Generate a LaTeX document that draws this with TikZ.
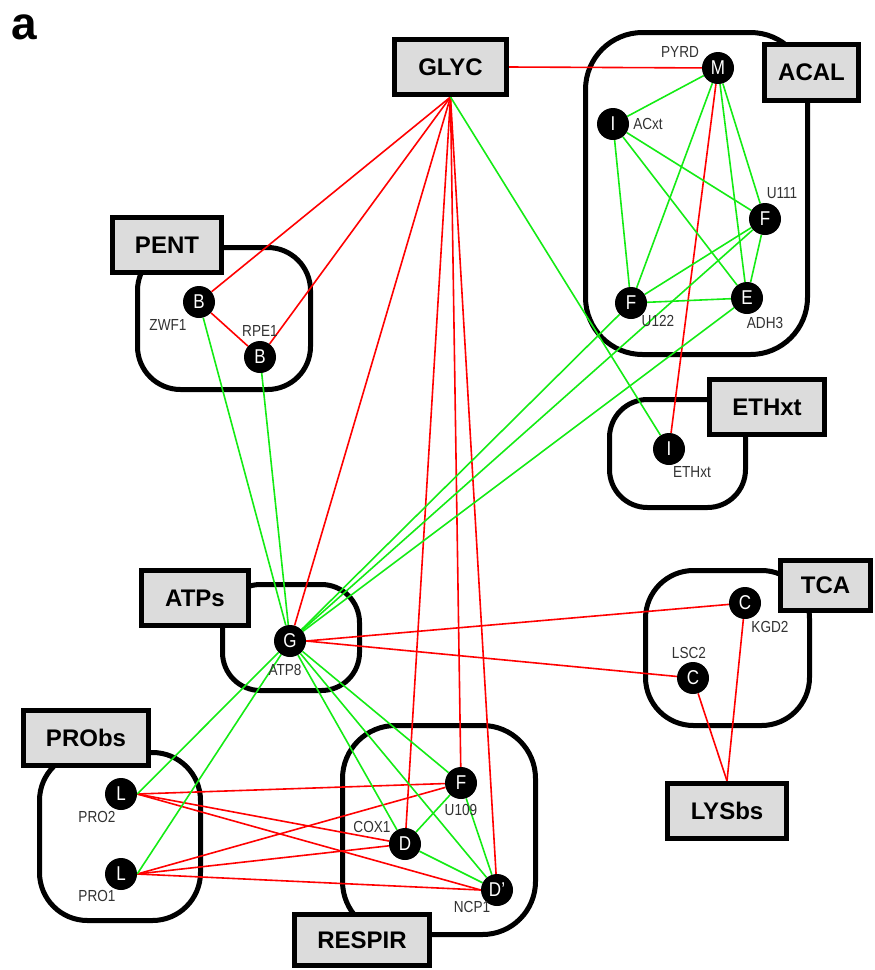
\documentclass[tikz,border=0pt]{standalone}
\usepackage{fontspec}
\setmainfont{Liberation Sans}
\newfontfamily\narrowfont[FakeStretch=0.85]{Liberation Sans}
\definecolor{boxgray}{RGB}{220,220,220}
\definecolor{labgray}{RGB}{50,50,50}
\definecolor{edgered}{RGB}{255,0,0}
\definecolor{edgegreen}{RGB}{20,235,20}
\pgfdeclarelayer{grplayer}
\pgfdeclarelayer{edglayer}
\pgfsetlayers{grplayer,edglayer,main}
\tikzset{
  box/.style={draw=black, line width=5pt, fill=boxgray, inner sep=0pt,
    font=\fontsize{24}{24}\selectfont\bfseries, text=black},
  gene/.style={circle, fill=black, minimum size=32pt, inner sep=0pt,
    text=white, font=\narrowfont\fontsize{20}{20}\selectfont},
  lab/.style={text=labgray, inner sep=0pt, font=\narrowfont\fontsize{16}{16}\selectfont},
  grp/.style={draw=black, line width=5pt},
  redE/.style={draw=edgered, line width=1.6pt},
  greenE/.style={draw=edgegreen, line width=1.6pt}
}
\begin{document}
\begin{tikzpicture}[x=1pt,y=-1pt]
\useasboundingbox (0,0) rectangle (875,970);

% panel letter
\node[anchor=base, inner sep=0pt, font=\fontsize{46}{46}\selectfont\bfseries] (panel) at (24,39) {a};

% group outlines
\begin{pgfonlayer}{grplayer}
\draw[grp, rounded corners=57pt] (585.5,32.5) rectangle (807.5,354.5);
\draw[grp, rounded corners=43pt] (137.5,247.5) rectangle (310.5,389.5);
\draw[grp, rounded corners=38pt] (609.5,399.5) rectangle (745.5,507.5);
\draw[grp, rounded corners=48pt] (645.5,570.5) rectangle (809.5,725.5);
\draw[grp, rounded corners=38pt] (222.5,584.5) rectangle (359.5,690.5);
\draw[grp, rounded corners=48pt] (39.5,752.5) rectangle (200.5,920.5);
\draw[grp, rounded corners=53pt] (342.5,725.5) rectangle (535.5,934.5);
\end{pgfonlayer}

% category boxes
\node[box, minimum width=112pt, minimum height=55pt] (GLYC) at (450.5,67) {GLYC};
\node[box, minimum width=94pt, minimum height=56pt] (ACAL) at (811.5,72.5) {ACAL};
\node[box, minimum width=109pt, minimum height=55pt] (PENT) at (167,245) {PENT};
\node[box, minimum width=115pt, minimum height=55pt] (ETHXT) at (767,407) {ETHxt};
\node[box, minimum width=90pt, minimum height=50pt] (TCA) at (825.5,585.5) {TCA};
\node[box, minimum width=107pt, minimum height=55pt] (ATPS) at (195,598) {ATPs};
\node[box, minimum width=125pt, minimum height=55pt] (PROBS) at (86,738) {PRObs};
\node[box, minimum width=135pt, minimum height=51pt] (RESPIR) at (362,940) {RESPIR};
\node[box, minimum width=119pt, minimum height=55pt] (LYSBS) at (727,811) {LYSbs};

% gene circles
\node[gene] (M) at (718,68) {M};
\node[gene] (ACXT) at (613,124) {I};
\node[gene] (U111) at (765,219) {F};
\node[gene] (U122) at (631,303) {F};
\node[gene] (ADH3) at (747,298) {E};
\node[gene] (ETHI) at (669,449) {I};
\node[gene] (ZWF1) at (199,302) {B};
\node[gene] (RPE1) at (260,357) {B};
\node[gene] (G) at (290,641) {G};
\node[gene] (KGD2) at (745,603) {C};
\node[gene] (LSC2) at (693,678) {C};
\node[gene] (PRO2) at (121,794) {L};
\node[gene] (PRO1) at (121,874) {L};
\node[gene] (U109) at (461,783) {F};
\node[gene] (COX1) at (405,844) {D};
\node[gene] (NCP1) at (497,890) {D’};

% gene labels
\node[lab] (lPYRD) at (680,52) {PYRD};
\node[lab] (lACXT) at (648,124) {ACxt};
\node[lab] (lU111) at (782,193) {U111};
\node[lab] (lU122) at (658,321) {U122};
\node[lab] (lADH3) at (765,323) {ADH3};
\node[lab] (lETH) at (692,472) {ETHxt};
\node[lab] (lZWF1) at (168,325) {ZWF1};
\node[lab] (lRPE1) at (260,331) {RPE1};
\node[lab] (lATP8) at (285,670) {ATP8};
\node[lab] (lKGD2) at (770,627) {KGD2};
\node[lab] (lLSC2) at (689,653) {LSC2};
\node[lab] (lPRO2) at (97,817) {PRO2};
\node[lab] (lPRO1) at (97,896) {PRO1};
\node[lab] (lU109) at (461,810) {U109};
\node[lab] (lCOX1) at (372,827) {COX1};
\node[lab] (lNCP1) at (472,907) {NCP1};

% connectors
\begin{pgfonlayer}{edglayer}
% red
\draw[redE] (GLYC.east) -- (M);
\draw[redE] (GLYC.south) -- (ZWF1);
\draw[redE] (GLYC.south) -- (RPE1);
\draw[redE] (GLYC.south) -- (G);
\draw[redE] (GLYC.south) -- (COX1);
\draw[redE] (GLYC.south) -- (U109);
\draw[redE] (GLYC.south) -- (NCP1);
\draw[redE] (M) -- (ETHI);
\draw[redE] (ZWF1) -- (RPE1);
\draw[redE] (G.east) -- (KGD2);
\draw[redE] (G.east) -- (LSC2);
\draw[redE] (KGD2) -- (LYSBS.north);
\draw[redE] (LSC2) -- (LYSBS.north);
\draw[redE] (PRO2.east) -- (U109);
\draw[redE] (PRO2.east) -- (COX1);
\draw[redE] (PRO2.east) -- (NCP1.west);
\draw[redE] (PRO1.east) -- (U109);
\draw[redE] (PRO1.east) -- (COX1);
\draw[redE] (PRO1.east) -- (NCP1.west);
% green
\draw[greenE] (GLYC.south) -- (ETHI);
\draw[greenE] (M) -- (ACXT);
\draw[greenE] (M) -- (U122);
\draw[greenE] (M) -- (ADH3);
\draw[greenE] (M) -- (U111);
\draw[greenE] (ACXT) -- (U122);
\draw[greenE] (ACXT) -- (U111);
\draw[greenE] (ACXT) -- (ADH3);
\draw[greenE] (U111) -- (U122);
\draw[greenE] (U111) -- (ADH3);
\draw[greenE] (U122) -- (ADH3);
\draw[greenE] (G) -- (U111);
\draw[greenE] (G) -- (ADH3);
\draw[greenE] (G) -- (U122);
\draw[greenE] (G) -- (ZWF1);
\draw[greenE] (G) -- (RPE1);
\draw[greenE] (G) -- (PRO2.east);
\draw[greenE] (G) -- (PRO1.east);
\draw[greenE] (G) -- (U109);
\draw[greenE] (G) -- (COX1);
\draw[greenE] (G) -- (NCP1);
\draw[greenE] (U109) -- (COX1);
\draw[greenE] (U109) -- (NCP1);
\draw[greenE] (COX1) -- (NCP1);
\end{pgfonlayer}
\end{tikzpicture}
\end{document}
